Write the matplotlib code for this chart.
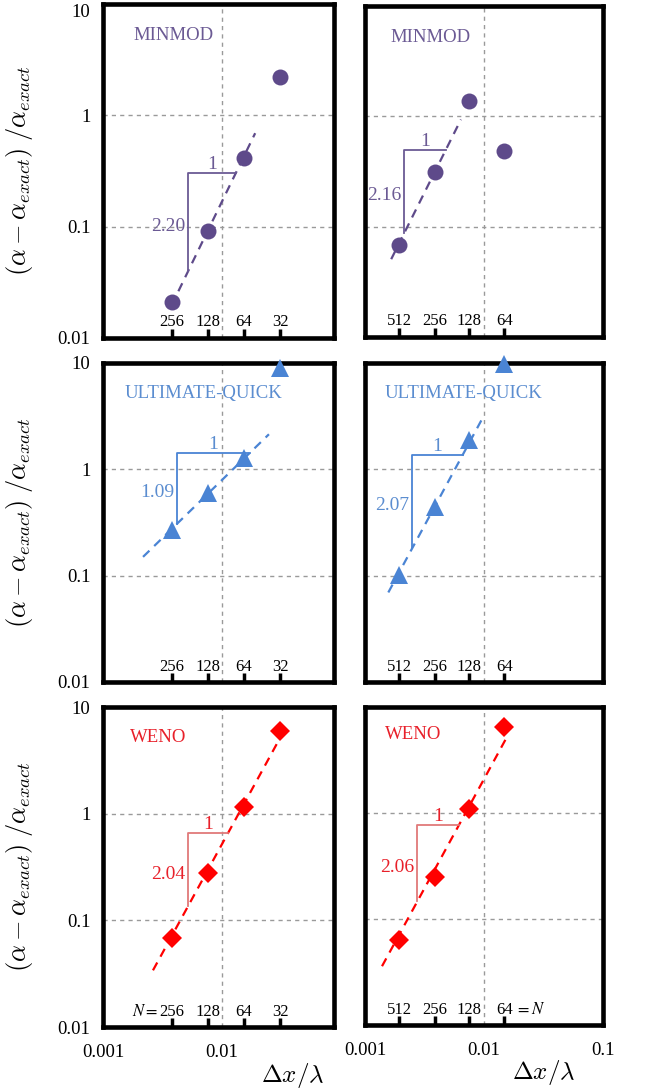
import numpy as np
import matplotlib.pyplot as plt
from matplotlib.transforms import blended_transform_factory

plt.rcParams['font.family'] = ['Liberation Serif', 'DejaVu Serif']
plt.rcParams['mathtext.fontset'] = 'cm'

# grid sizes marked along the bottom of each panel
N_left = [256, 128, 64, 32]
N_right = [512, 256, 128, 64]

# dx/lambda of each run
dx_left = [0.0038, 0.0076, 0.0153, 0.0307]
dx_right = [0.00194, 0.00385, 0.00746, 0.0148]

# relative error (alpha - alpha_exact)/alpha_exact
minmod_left = [0.021, 0.092, 0.41, 2.2]
minmod_right = [0.068, 0.31, 1.37, 0.49]
uq_left = [0.27, 0.60, 1.27, 9.0]
uq_right = [0.102, 0.44, 1.87, 9.8]
weno_left = [0.069, 0.28, 1.16, 6.0]
weno_right = [0.063, 0.25, 1.09, 6.5]

# convergence slopes written on the triangles
slope_left = [2.20, 1.09, 2.04]
slope_right = [2.16, 2.07, 2.06]
n_fit = [3, 3, 4]   # points used for the dashed fit

# x extent of the dashed fit lines and of the slope triangles
fit_left = [(0.0043, 0.019), (0.00217, 0.0248), (0.00263, 0.029)]
fit_right = [(0.00166, 0.0064), (0.00157, 0.0098), (0.00139, 0.016)]
tri_left = [(0.00518, 0.0131), (0.00419, 0.0172), (0.00518, 0.0112)]
tri_right = [(0.00214, 0.00476), (0.0025, 0.00664), (0.00276, 0.00614)]

names = ['MINMOD', 'ULTIMATE-QUICK', 'WENO']
colors = ['#5E4A8A', '#4A84D4', '#FF0000']
text_colors = ['#6B5A94', '#5B8DD0', '#E8202A']
tri_colors = ['#6B5A94', '#4A84D4', '#E07A7A']
markers = ['o', '^', 'D']
msizes = [11.5, 13, 10]

W, H = 646, 1090
fig = plt.figure(figsize=(W / 100, H / 100), dpi=100)

# axes boxes in pixels: left, top, right, bottom
boxes = [
    [(103, 4, 334, 338), (365, 6, 603, 337)],
    [(103, 363, 334, 682), (365, 363, 603, 682)],
    [(103, 707, 334, 1027), (365, 707, 603, 1025)],
]
name_pos = [[(0.13, 0.905), (0.105, 0.905)],
            [(0.095, 0.905), (0.084, 0.905)],
            [(0.117, 0.905), (0.084, 0.915)]]

data = [[minmod_left, minmod_right], [uq_left, uq_right], [weno_left, weno_right]]

for r in range(3):
    for c in range(2):
        l, t, rt, b = boxes[r][c]
        ax = fig.add_axes([l / W, 1 - b / H, (rt - l) / W, (b - t) / H])
        dx = dx_left if c == 0 else dx_right
        Ns = N_left if c == 0 else N_right
        err = data[r][c]
        p = slope_left[r] if c == 0 else slope_right[r]
        fr = fit_left[r] if c == 0 else fit_right[r]
        tr = tri_left[r] if c == 0 else tri_right[r]

        ax.set_xscale('log')
        ax.set_yscale('log')
        if c == 0:
            ax.set_xticks([0.001, 0.01])
            ax.set_xticklabels(['0.001', '0.01'])
        else:
            ax.set_xticks([0.001, 0.01, 0.1])
            ax.set_xticklabels(['0.001', '0.01', '0.1'])
        ax.set_yticks([0.01, 0.1, 1, 10])
        ax.set_yticklabels(['0.01', '0.1', '1', '10'])
        ax.set_xlim(0.001, 10 ** (-3 + (rt - l) / 119.0))
        ax.set_ylim(0.01, 10)
        ax.minorticks_off()
        ax.tick_params(length=0, labelsize=13.5, pad=9)
        ax.tick_params(axis='x', pad=12)
        if c == 1:
            ax.tick_params(labelleft=False)
        if r < 2:
            ax.tick_params(labelbottom=False)
        if r == 0 and c == 0:
            ax.get_yticklabels()[-1].set_verticalalignment('top')
        ax.grid(True, color='#9a9a9a', linestyle=(0, (3, 3)), linewidth=1)
        for s in ax.spines.values():
            s.set_linewidth(3.3)

        # fit line with the labelled slope
        lx = np.log10(dx[:n_fit[r]])
        ly = np.log10(err[:n_fit[r]])
        a = np.mean(ly - p * lx)
        fit = lambda x: 10 ** (a + p * np.log10(x))
        xf = np.array(fr)
        ax.plot(xf, fit(xf), linestyle=(0, (4, 3)), color=colors[r], linewidth=1.6)

        # slope triangle
        x1, x2 = tr
        ax.plot([x1, x1, x2], [fit(x1), fit(x2), fit(x2)], color=tri_colors[r], linewidth=1.3)
        ax.annotate('1', (np.sqrt(x1 * x2), fit(x2)), xytext=(0, 0), textcoords='offset points',
                    ha='center', va='bottom', fontsize=14, color=text_colors[r])
        ax.annotate('%.2f' % p, (x1, np.sqrt(fit(x1) * fit(x2))), xytext=(-2, -3),
                    textcoords='offset points', ha='right', va='center', fontsize=14,
                    color=text_colors[r])

        ax.plot(dx, err, linestyle='none', marker=markers[r], markersize=msizes[r],
                color=colors[r], markeredgewidth=0, clip_on=False, zorder=5)

        ax.text(name_pos[r][c][0], name_pos[r][c][1], names[r], transform=ax.transAxes,
                ha='left', va='center', fontsize=13.5, color=text_colors[r])

        # N markers along the bottom
        trans = blended_transform_factory(ax.transData, ax.transAxes)
        for x, n in zip(dx, Ns):
            ax.plot([x, x], [0, 0.028], transform=trans, color='black', linewidth=2.5,
                    solid_capstyle='butt')
            ax.text(x, 0.048, str(n), transform=trans, ha='center', va='center', fontsize=12)
        if r == 2 and c == 0:
            ax.annotate('$N=$', (dx[0], 0.048), xycoords=trans, xytext=(-10, 0),
                        textcoords='offset points', ha='right', va='center', fontsize=12,
                        math_fontfamily='stix')
        if r == 2 and c == 1:
            ax.annotate('$=N$', (dx[-1], 0.048), xycoords=trans, xytext=(8, 0),
                        textcoords='offset points', ha='left', va='center', fontsize=12,
                        math_fontfamily='stix')

        if c == 0:
            ax.set_ylabel(r'$(\alpha - \alpha_{exact})\;/\alpha_{exact}$', fontsize=19)
            ax.yaxis.set_label_coords(-0.295, 0.5)
        if r == 2:
            ax.set_xlabel(r'$\Delta x/\lambda$', fontsize=18)
            ax.xaxis.set_label_coords(0.82 if c == 0 else 0.75, -0.105)

fig.savefig('out.png', dpi=100)
